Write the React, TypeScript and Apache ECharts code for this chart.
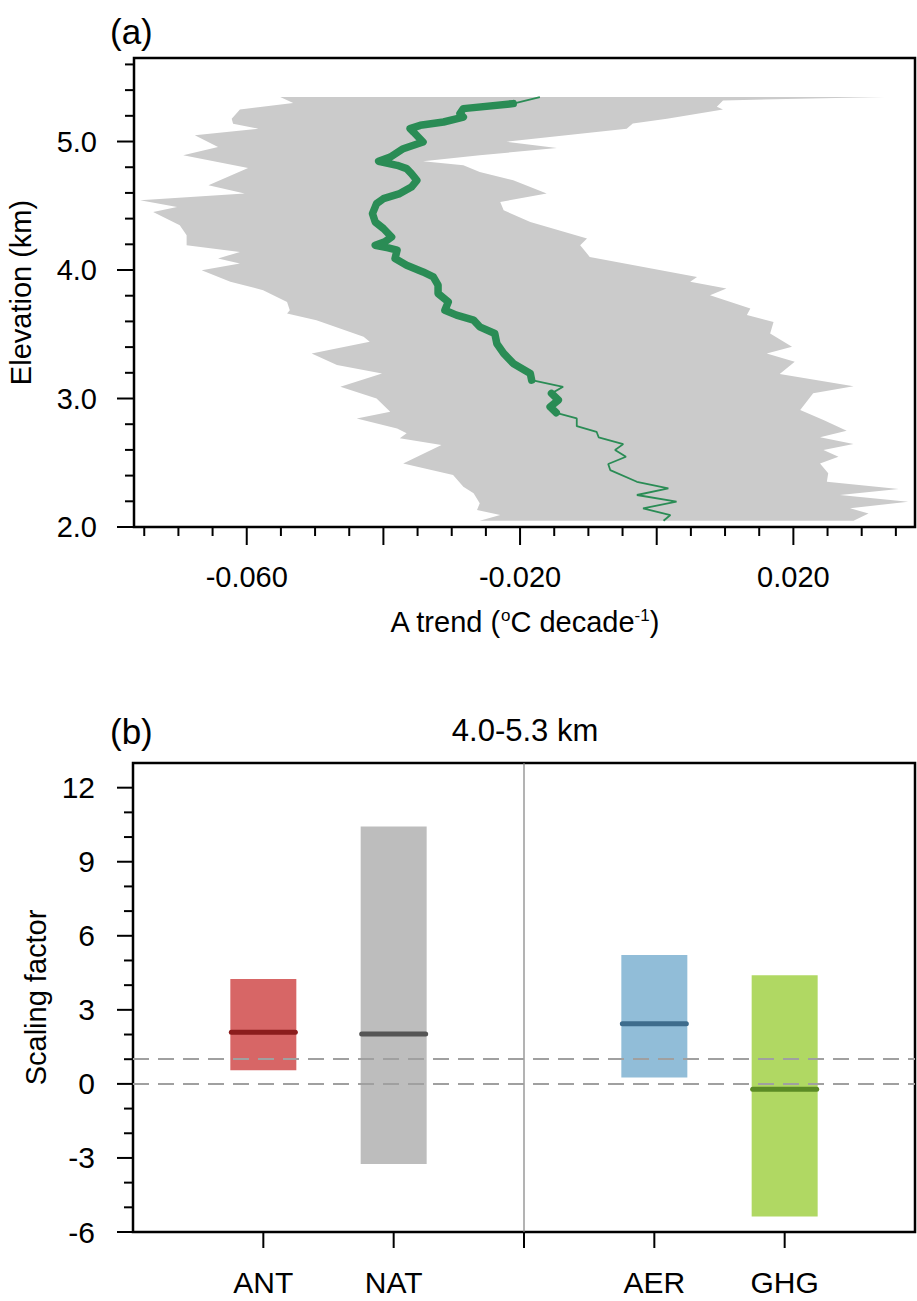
import React, { useEffect, useRef } from 'react';
import * as echarts from 'echarts';

const FONT = '"Liberation Sans", Arial, Helvetica, sans-serif';

// ---------- Panel (a): trend profile ----------
const meanElev = [5.346, 5.295, 5.256, 5.217, 5.19, 5.152, 5.126, 5.1, 5.074, 4.996, 4.944, 4.879, 4.846, 4.815, 4.789, 4.75, 4.698, 4.646, 4.595, 4.555, 4.517, 4.439, 4.374, 4.323, 4.257, 4.219, 4.193, 4.172, 4.154, 4.089, 4.037, 3.985, 3.946, 3.882, 3.817, 3.752, 3.687, 3.649, 3.61, 3.558, 3.506, 3.428, 3.351, 3.273, 3.195, 3.143, 3.091, 3.04, 2.988, 2.935, 2.889, 2.845, 2.785, 2.741, 2.698, 2.645, 2.599, 2.547, 2.49, 2.443, 2.352, 2.301, 2.249, 2.197, 2.145, 2.093, 2.049];
const meanTrend = [-0.0171, -0.021, -0.0283, -0.0288, -0.0283, -0.0312, -0.0346, -0.0361, -0.0356, -0.0342, -0.0371, -0.039, -0.0407, -0.038, -0.0366, -0.0359, -0.0351, -0.0359, -0.0376, -0.04, -0.041, -0.0416, -0.0412, -0.04, -0.0388, -0.0398, -0.0412, -0.0393, -0.038, -0.0383, -0.0366, -0.0342, -0.0327, -0.032, -0.032, -0.0305, -0.031, -0.0293, -0.0268, -0.0259, -0.0237, -0.0234, -0.0224, -0.021, -0.0185, -0.0183, -0.0137, -0.0154, -0.0144, -0.0156, -0.0147, -0.0117, -0.0117, -0.0088, -0.0085, -0.0049, -0.0061, -0.0045, -0.0071, -0.0068, -0.0029, 0.0017, -0.0029, 0.0029, -0.002, 0.002, 0.001];
const meanSignificant = [0, 1, 1, 1, 1, 1, 1, 1, 1, 1, 1, 1, 1, 1, 1, 1, 1, 1, 1, 1, 1, 1, 1, 1, 1, 1, 1, 1, 1, 1, 1, 1, 1, 1, 1, 1, 1, 1, 1, 1, 1, 1, 1, 1, 1, 1, 0, 1, 1, 1, 1, 0, 0, 0, 0, 0, 0, 0, 0, 0, 0, 0, 0, 0, 0, 0, 0];

const lowerElev = [5.346, 5.3, 5.25, 5.178, 5.139, 5.1, 5.048, 4.957, 4.893, 4.794, 4.659, 4.595, 4.543, 4.491, 4.452, 4.348, 4.271, 4.193, 4.141, 4.089, 4.051, 3.998, 3.908, 3.843, 3.752, 3.687, 3.662, 3.61, 3.48, 3.441, 3.351, 3.26, 3.195, 3.091, 3.001, 2.897, 2.845, 2.767, 2.729, 2.69, 2.638, 2.495, 2.404, 2.313, 2.262, 2.184, 2.132, 2.093, 2.049];
const lowerTrend = [-0.0551, -0.0532, -0.061, -0.0622, -0.062, -0.0583, -0.0676, -0.0642, -0.0693, -0.0598, -0.0656, -0.0603, -0.0756, -0.0702, -0.0737, -0.0698, -0.0688, -0.0688, -0.061, -0.0642, -0.061, -0.0666, -0.0624, -0.0576, -0.0541, -0.0537, -0.0541, -0.0498, -0.0429, -0.042, -0.0505, -0.0468, -0.0402, -0.0463, -0.041, -0.039, -0.0439, -0.038, -0.0366, -0.0376, -0.0315, -0.0371, -0.0298, -0.0283, -0.0268, -0.0259, -0.0263, -0.0229, -0.0259];

const upperElev = [5.346, 5.32, 5.27, 5.25, 5.178, 5.14, 5.1, 4.998, 4.95, 4.893, 4.846, 4.815, 4.763, 4.698, 4.595, 4.53, 4.465, 4.374, 4.245, 4.193, 4.102, 3.946, 3.908, 3.856, 3.804, 3.7, 3.649, 3.596, 3.506, 3.402, 3.351, 3.286, 3.19, 3.096, 3.04, 2.91, 2.832, 2.749, 2.698, 2.645, 2.599, 2.547, 2.495, 2.418, 2.352, 2.296, 2.249, 2.197, 2.145, 2.106, 2.049];
const upperTrend = [0.0334, 0.0097, 0.0088, 0.0097, 0.0015, -0.0035, -0.0044, -0.022, -0.0146, -0.0259, -0.0342, -0.0283, -0.0259, -0.021, -0.0161, -0.0229, -0.0224, -0.0185, -0.0102, -0.0112, -0.0098, 0.0059, 0.0049, 0.0102, 0.0078, 0.0137, 0.0132, 0.0171, 0.0166, 0.0198, 0.0161, 0.0202, 0.018, 0.0288, 0.0229, 0.021, 0.0244, 0.0278, 0.0239, 0.0288, 0.0244, 0.0266, 0.0239, 0.0251, 0.0249, 0.0354, 0.0268, 0.0368, 0.0283, 0.031, 0.0288];

const trendTickLabels = [-0.06, -0.02, 0.02];
const elevTickLabels = [2, 3, 4, 5];

// ---------- Panel (b): scaling factors ----------
const forcings = ['ANT', 'NAT', 'AER', 'GHG'];
const lowBounds = [0.55, -3.25, 0.26, -5.37];
const highBounds = [4.25, 10.43, 5.22, 4.4];
const bestEstimates = [2.09, 2.02, 2.44, -0.22];
const scaleTickLabels = [-6, -3, 0, 3, 6, 9, 12];
const referenceLevels = [1, 0];

// styles
const barFill = ['#d76666', '#bdbdbd', '#91bdd8', '#b0d863'];
const barLine = ['#8b1d1d', '#555555', '#3e6c8c', '#5b8b25'];
const GREEN = '#2a8c55';

const X_MIN_A = -0.0765, X_MAX_A = 0.0378, Y_MIN_A = 2.0, Y_MAX_A = 5.65;
const Y_MIN_B = -6, Y_MAX_B = 13;

function steps(start: number, end: number, step: number): number[] {
  const out: number[] = [];
  const n = Math.round((end - start) / step);
  for (let i = 0; i <= n; i++) out.push(Math.round((start + i * step) * 1e6) / 1e6);
  return out;
}
const isMult = (v: number, m: number) => Math.abs(v / m - Math.round(v / m)) < 1e-6;
const near = (list: number[], v: number) => list.some((t) => Math.abs(t - v) < 1e-7);

export default function App() {
  const ref = useRef<HTMLDivElement>(null);
  useEffect(() => {
    if (!ref.current) return;
    const chart = echarts.init(ref.current, undefined, { renderer: 'svg' });

    const envelope = [
      ...lowerTrend.map((v, i) => [v, lowerElev[i]]),
      ...upperTrend.map((v, i) => [v, upperElev[i]]).reverse(),
    ];
    const meanAll = meanTrend.map((v, i) => [v, meanElev[i]]);
    const meanSig = meanTrend.map((v, i) => (meanSignificant[i] ? [v, meanElev[i]] : ['-', '-']));

    const ticksA: number[][] = [
      ...steps(-0.06, 0.02, 0.02).map((v) => [v, Y_MIN_A, 18, 0]),
      ...steps(-0.075, 0.035, 0.005).filter((v) => !isMult(v, 0.02)).map((v) => [v, Y_MIN_A, 9, 0]),
      ...steps(2, 5, 1).map((v) => [X_MIN_A, v, 17, 1]),
      ...steps(2.2, 5.6, 0.2).filter((v) => !isMult(v, 1)).map((v) => [X_MIN_A, v, 9, 1]),
    ];
    const ticksB: number[][] = [
      ...[1, 2, 3, 4, 5].map((i) => [i, Y_MIN_B, 16, 0]),
      ...steps(-6, 12, 3).map((v) => [0, v, 16, 1]),
      ...steps(-5, 12, 1).filter((v) => !isMult(v, 3)).map((v) => [0, v, 9, 1]),
    ];
    const tickRender = (params: any, api: any) => {
      const p = api.coord([api.value(0), api.value(1)]);
      const len = api.value(2);
      const dir = api.value(3);
      const shape = dir === 0
        ? { x1: p[0], y1: p[1], x2: p[0], y2: p[1] + len }
        : { x1: p[0], y1: p[1], x2: p[0] - len, y2: p[1] };
      return { type: 'line', shape, style: { stroke: '#000', lineWidth: 2 } };
    };

    const xSlots = ['', forcings[0], forcings[1], ' ', forcings[2], forcings[3], '  '];

    const option: any = {
      animation: false,
      backgroundColor: '#ffffff',
      textStyle: { fontFamily: FONT },
      grid: [
        { left: 134, top: 58, width: 781, height: 469, show: true, borderColor: '#000', borderWidth: 2.5, backgroundColor: 'transparent', outerBoundsMode: 'none' },
        { left: 133, top: 763, width: 782, height: 469, show: true, borderColor: '#000', borderWidth: 2.5, backgroundColor: 'transparent', outerBoundsMode: 'none' },
      ],
      xAxis: [
        {
          gridIndex: 0, type: 'value', min: X_MIN_A, max: X_MAX_A,
          axisLine: { show: false }, axisTick: { show: false }, splitLine: { show: false },
          axisLabel: {
            margin: 35, fontSize: 29, color: '#000', fontFamily: FONT,
            formatter: (v: number) => (near(trendTickLabels, v) ? v.toFixed(3) : ''),
          },
          name: 'A trend ({sup|o}C decade{sup|-1})', nameLocation: 'middle', nameGap: 80,
          nameTextStyle: {
            fontSize: 29, color: '#000', fontFamily: FONT,
            rich: { sup: { fontSize: 17, verticalAlign: 'top', color: '#000', fontFamily: FONT } },
          },
        },
        {
          gridIndex: 1, type: 'category', data: xSlots, boundaryGap: false,
          axisLine: { show: false }, axisTick: { show: false }, splitLine: { show: false },
          axisLabel: { interval: 0, margin: 35, fontSize: 30, color: '#000', fontFamily: FONT },
        },
      ],
      yAxis: [
        {
          gridIndex: 0, type: 'value', min: Y_MIN_A, max: Y_MAX_A, interval: 1,
          axisLine: { show: false }, axisTick: { show: false }, splitLine: { show: false },
          axisLabel: {
            margin: 37, fontSize: 29, color: '#000', fontFamily: FONT,
            formatter: (v: number) => (near(elevTickLabels, v) ? v.toFixed(1) : ''),
          },
          name: 'Elevation (km)', nameLocation: 'middle', nameGap: 99,
          nameTextStyle: { fontSize: 29, color: '#000', fontFamily: FONT },
        },
        {
          gridIndex: 1, type: 'value', min: Y_MIN_B, max: Y_MAX_B, interval: 3,
          axisLine: { show: false }, axisTick: { show: false }, splitLine: { show: false },
          axisLabel: {
            margin: 38, fontSize: 30, color: '#000', fontFamily: FONT,
            formatter: (v: number) => (near(scaleTickLabels, v) ? String(Math.round(v)) : ''),
          },
          name: 'Scaling factor', nameLocation: 'middle', nameGap: 80,
          nameTextStyle: { fontSize: 29, color: '#000', fontFamily: FONT },
        },
      ],
      series: [
        {
          type: 'custom', xAxisIndex: 0, yAxisIndex: 0, z: 1, silent: true,
          data: [[envelope[0][0], envelope[0][1]]],
          renderItem: (params: any, api: any) => ({
            type: 'polygon',
            shape: { points: envelope.map((p) => api.coord(p)) },
            style: { fill: '#cbcbcb' },
          }),
        },
        {
          type: 'line', xAxisIndex: 0, yAxisIndex: 0, z: 3, silent: true,
          data: meanAll, symbol: 'none', showSymbol: false,
          lineStyle: { color: GREEN, width: 1.8 },
        },
        {
          type: 'line', xAxisIndex: 0, yAxisIndex: 0, z: 4, silent: true,
          data: meanSig, symbol: 'none', showSymbol: false, connectNulls: false,
          lineStyle: { color: GREEN, width: 7.5, cap: 'round', join: 'round' },
        },
        {
          type: 'custom', xAxisIndex: 0, yAxisIndex: 0, z: 6, silent: true,
          data: ticksA, renderItem: tickRender,
        },
        {
          type: 'custom', xAxisIndex: 1, yAxisIndex: 1, z: 1, silent: true,
          data: [[3, Y_MIN_B, Y_MAX_B]],
          renderItem: (params: any, api: any) => {
            const a = api.coord([api.value(0), api.value(1)]);
            const b = api.coord([api.value(0), api.value(2)]);
            return { type: 'line', shape: { x1: a[0], y1: a[1], x2: b[0], y2: b[1] }, style: { stroke: '#808080', lineWidth: 1.2 } };
          },
        },
        {
          type: 'custom', xAxisIndex: 1, yAxisIndex: 1, z: 2, silent: true,
          data: forcings.map((f, i) => [f, lowBounds[i], highBounds[i], bestEstimates[i]]),
          renderItem: (params: any, api: any) => {
            const i = params.dataIndex;
            const x = api.value(0);
            const lo = api.coord([x, api.value(1)]);
            const hi = api.coord([x, api.value(2)]);
            const be = api.coord([x, api.value(3)]);
            const w = 66;
            return {
              type: 'group',
              children: [
                { type: 'rect', shape: { x: lo[0] - w / 2, y: hi[1], width: w, height: lo[1] - hi[1] }, style: { fill: barFill[i] } },
                { type: 'line', shape: { x1: be[0] - 32, y1: be[1], x2: be[0] + 32, y2: be[1] }, style: { stroke: barLine[i], lineWidth: 5, lineCap: 'round' } },
              ],
            };
          },
          markLine: {
            silent: true, symbol: ['none', 'none'], label: { show: false },
            lineStyle: { color: '#a0a0a0', width: 2, type: [16, 9] },
            data: referenceLevels.map((v) => ({ yAxis: v })),
          },
        },
        {
          type: 'custom', xAxisIndex: 1, yAxisIndex: 1, z: 6, silent: true,
          data: ticksB, renderItem: tickRender,
        },
      ],
      graphic: [
        { type: 'text', x: 110, y: 31, style: { text: '(a)', fontSize: 35, fontFamily: FONT, fill: '#000', align: 'left', verticalAlign: 'middle' } },
        { type: 'text', x: 110, y: 731, style: { text: '(b)', fontSize: 35, fontFamily: FONT, fill: '#000', align: 'left', verticalAlign: 'middle' } },
        { type: 'text', x: 525, y: 730, style: { text: '4.0-5.3 km', fontSize: 31, fontFamily: FONT, fill: '#000', align: 'center', verticalAlign: 'middle' } },
      ],
    };
    chart.setOption(option);
    return () => chart.dispose();
  }, []);
  return <div ref={ref} style={{ position: 'absolute', left: 0, top: 0, width: 917, height: 1301, background: '#fff' }} />;
}
